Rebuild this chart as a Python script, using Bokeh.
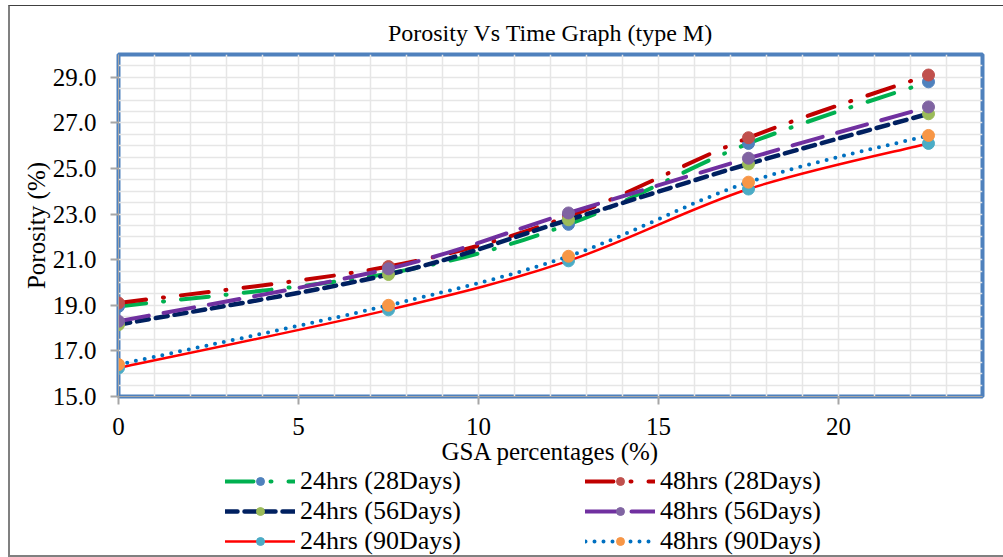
from bokeh.plotting import figure
from bokeh.layouts import column
from bokeh.models import (ColumnDataSource, Legend, LegendItem, FixedTicker,
                          SingleIntervalTicker, Range1d, NumeralTickFormatter,
                          InlineStyleSheet)
from bokeh.embed import file_html
from bokeh.resources import INLINE

# ---------------- data ----------------
gsa_pct = [0, 7.5, 12.5, 17.5, 22.5]

h24_d28 = [18.95, 20.4, 22.55, 26.1, 28.8]
h48_d28 = [19.1, 20.7, 22.9, 26.35, 29.1]
h24_d56 = [18.15, 20.35, 22.75, 25.2, 27.4]
h48_d56 = [18.3, 20.6, 23.05, 25.45, 27.7]
h24_d90 = [16.25, 18.8, 20.95, 24.1, 26.1]
h48_d90 = [16.4, 19.0, 21.15, 24.4, 26.45]

series_labels = ["24hrs (28Days)", "48hrs (28Days)", "24hrs (56Days)",
                 "48hrs (56Days)", "24hrs (90Days)", "48hrs (90Days)"]
series_values = [h24_d28, h48_d28, h24_d56, h48_d56, h24_d90, h48_d90]

x_ticks = [0, 5, 10, 15, 20]
y_ticks = [15, 17, 19, 21, 23, 25, 27, 29]

# ---------------- styles ----------------
styles = [
    dict(line_color="#00B050", line_width=4, line_dash="28 17 1 17", marker_color="#4F81BD"),
    dict(line_color="#C00000", line_width=4, line_dash="28 17 1 17", marker_color="#C0504D"),
    dict(line_color="#002060", line_width=4.5, line_dash="12 7", marker_color="#9BBB59"),
    dict(line_color="#7030A0", line_width=4, line_dash="31 15", marker_color="#8064A2"),
    dict(line_color="#FF0000", line_width=2.5, line_dash="solid", marker_color="#4BACC6"),
    dict(line_color="#0070C0", line_width=4, line_dash="0 9", marker_color="#F79646"),
]

FONT = "Liberation Serif"

p = figure(width=1003, height=467,
           x_range=Range1d(0, 24), y_range=Range1d(15, 30),
           output_backend="svg", toolbar_location=None,
           title="Porosity Vs Time Graph (type M)",
           min_border_left=118, min_border_right=21,
           min_border_top=54, min_border_bottom=70)

p.background_fill_color = "white"
p.border_fill_color = "white"
p.outline_line_color = "#4F81BD"
p.outline_line_width = 4

p.title.text_font = FONT
p.title.text_font_size = "24px"
p.title.text_font_style = "normal"
p.title.align = "center"
p.title.text_color = "black"
p.title.standoff = 18

# grids
p.xgrid.ticker = SingleIntervalTicker(interval=1)
p.ygrid.ticker = SingleIntervalTicker(interval=0.5)
for g in (p.xgrid, p.ygrid):
    g.grid_line_color = "#E6E6E6"
    g.grid_line_width = 1.5

# axes
for ax in (p.xaxis, p.yaxis):
    ax.axis_line_color = "#A6A6A6"
    ax.major_tick_line_color = "#A6A6A6"
    ax.major_tick_line_width = 2
    ax.major_tick_out = 8
    ax.major_tick_in = 0
    ax.minor_tick_line_color = None
    ax.major_label_text_font = FONT
    ax.major_label_text_font_size = "25px"
    ax.major_label_text_color = "black"
    ax.axis_label_text_font = FONT
    ax.axis_label_text_font_size = "25px"
    ax.axis_label_text_font_style = "normal"
    ax.axis_label_text_color = "black"

p.xaxis.ticker = FixedTicker(ticks=x_ticks)
p.yaxis.ticker = FixedTicker(ticks=y_ticks)
p.yaxis.formatter = NumeralTickFormatter(format="0.0")
p.xaxis.axis_label = "GSA percentages (%)"
p.yaxis.axis_label = "Porosity (%)"
p.xaxis.major_label_standoff = 13
p.xaxis.axis_label_standoff = 0
p.yaxis.major_label_standoff = 14
p.yaxis.axis_label_standoff = 0


def smooth_segments(xs, ys, k=1.0 / 6.0):
    n = len(xs)
    d = dict(x0=[], y0=[], x1=[], y1=[], cx0=[], cy0=[], cx1=[], cy1=[])
    for i in range(n - 1):
        ip = i - 1 if i > 0 else i
        inx = i + 2 if i + 2 < n else i + 1
        d["x0"].append(xs[i]); d["y0"].append(ys[i])
        d["x1"].append(xs[i + 1]); d["y1"].append(ys[i + 1])
        d["cx0"].append(xs[i] + (xs[i + 1] - xs[ip]) * k)
        d["cy0"].append(ys[i] + (ys[i + 1] - ys[ip]) * k)
        d["cx1"].append(xs[i + 1] - (xs[inx] - xs[i]) * k)
        d["cy1"].append(ys[i + 1] - (ys[inx] - ys[i]) * k)
    return d


# legend strip: a second figure below the chart (same series, out of its view)
pl = figure(width=1003, height=90,
            x_range=Range1d(0, 24), y_range=Range1d(0, 1),
            output_backend="svg", toolbar_location=None,
            x_axis_location=None, y_axis_location=None,
            min_border=0)
pl.grid.visible = False
pl.outline_line_color = None
pl.background_fill_color = "white"
pl.border_fill_color = "white"

items = {}
for label, vals, st in zip(series_labels, series_values, styles):
    seg = ColumnDataSource(smooth_segments(gsa_pct, vals))
    pts = ColumnDataSource(dict(x=gsa_pct, y=vals))
    line_kw = dict(line_color=st["line_color"], line_width=st["line_width"],
                   line_dash=st["line_dash"], line_cap="round")
    pt_kw = dict(size=12, fill_color=st["marker_color"], line_color=st["marker_color"])
    p.bezier(x0="x0", y0="y0", x1="x1", y1="y1",
             cx0="cx0", cy0="cy0", cx1="cx1", cy1="cy1", source=seg, **line_kw)
    p.scatter("x", "y", source=pts, **pt_kw)
    l_line = pl.line("x", "y", source=pts, **line_kw)
    l_pts = pl.scatter("x", "y", source=pts, **pt_kw)
    items[label] = LegendItem(label=label, renderers=[l_line, l_pts])

# column-major order: 24hrs column, then 48hrs column
legend_order = [0, 2, 4, 1, 3, 5]
legend = Legend(items=[items[series_labels[i]] for i in legend_order],
                ncols=2, orientation="vertical",
                location=(107, 1),
                label_text_font=FONT, label_text_font_size="26px",
                label_text_color="black",
                glyph_width=70, glyph_height=20, label_standoff=5,
                label_width=285, label_height=26, spacing=0,
                padding=0, margin=0, border_line_color=None,
                background_fill_alpha=0)
pl.add_layout(legend, "center")

layout = column(p, pl, spacing=0)
layout.stylesheets.append(InlineStyleSheet(css="""
:host { position: relative; }
:host::after { content: ""; position: absolute; left: 8px; top: 5px; right: -10px; bottom: 0px;
  border-left: 2px solid #808080; border-top: 1px solid #404040; border-bottom: 2px solid #808080;
  pointer-events: none; z-index: 10; }
"""))

open("out.html", "w").write(file_html(layout, INLINE))
